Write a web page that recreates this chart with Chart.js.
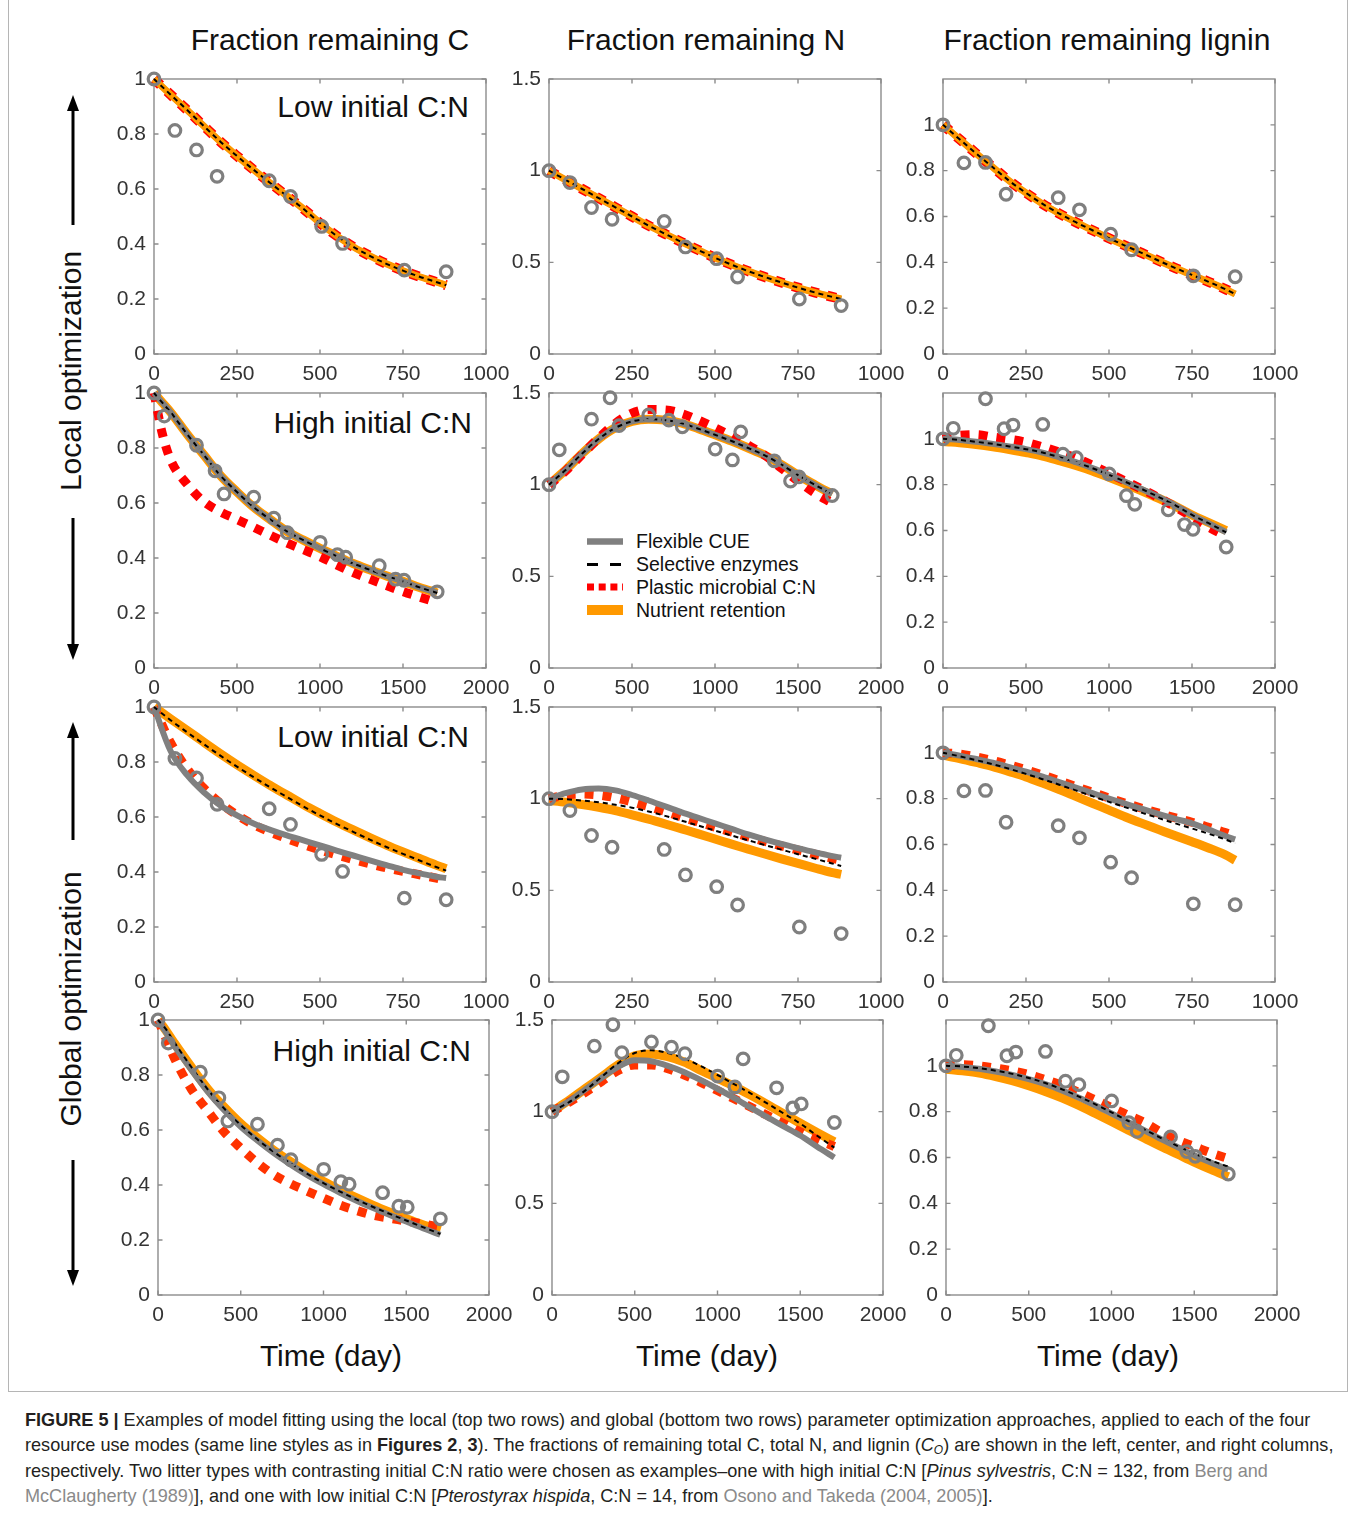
<!DOCTYPE html>
<html><head><meta charset="utf-8">
<script src="https://cdn.jsdelivr.net/npm/chart.js@4.4.1/dist/chart.umd.min.js"></script>
<style>
html,body{margin:0;padding:0;background:#fff;}
body{width:1357px;height:1514px;position:relative;overflow:hidden;font-family:"Liberation Sans",Arial,Helvetica,sans-serif;}
.t{position:absolute;white-space:nowrap;color:#111;font-size:30px;line-height:30px;}
.rot{position:absolute;white-space:nowrap;color:#111;font-size:30px;line-height:30px;transform:translate(-50%,-50%) rotate(-90deg);}
.leg{position:absolute;white-space:nowrap;color:#111;font-size:19.5px;line-height:20px;}
.cap{position:absolute;left:25px;top:1408px;font-size:18.1px;line-height:25.3px;color:#231f20;white-space:nowrap;}
.cap div{height:25.3px;}
.cap sub{font-size:12px;line-height:0;vertical-align:-3px;}
.cap .g{color:#8a8a8a;}
#frame{position:absolute;left:8px;top:-2px;width:1340px;height:1394px;border:1px solid #b5b5b5;box-sizing:border-box;}
</style></head><body>
<div id="frame"></div>

<script>
// ---------------- DATA ----------------
// observation days and observed fractions
const lowDays  = [0, 63, 128, 190, 347, 411, 505, 568, 754, 880];
const highDays = [0, 62, 256, 368, 422, 601, 722, 803, 1001, 1105, 1155, 1357, 1455, 1506, 1706];
const obsC_low  = [1.0, 0.813, 0.742, 0.646, 0.630, 0.573, 0.464, 0.402, 0.305, 0.299];
const obsN_low  = [1.0, 0.935, 0.799, 0.735, 0.723, 0.584, 0.52, 0.42, 0.30, 0.264];
const obsL_low  = [1.0, 0.834, 0.836, 0.697, 0.682, 0.629, 0.523, 0.455, 0.341, 0.337];
const obsC_high = [1.0, 0.916, 0.81, 0.717, 0.633, 0.621, 0.545, 0.492, 0.457, 0.412, 0.403, 0.372, 0.323, 0.319, 0.277];
const obsN_high = [1.0, 1.19, 1.357, 1.474, 1.322, 1.38, 1.352, 1.316, 1.194, 1.135, 1.288, 1.13, 1.02, 1.042, 0.941];
const obsL_high = [1.0, 1.046, 1.175, 1.044, 1.06, 1.063, 0.933, 0.918, 0.847, 0.752, 0.714, 0.69, 0.626, 0.605, 0.528];

// model output times
const modelT_low  = [0, 50, 100, 150, 200, 250, 300, 350, 400, 450, 500, 550, 600, 650, 700, 750, 800, 850, 880];
const modelT_high = [0, 50, 100, 200, 300, 400, 500, 600, 700, 800, 900, 1000, 1100, 1200, 1300, 1400, 1500, 1600, 1706];

// Local optimization, low initial C:N (all four modes overlap)
const locLow_C = [1.0, 0.943, 0.887, 0.829, 0.772, 0.72, 0.67, 0.622, 0.575, 0.528, 0.476, 0.43, 0.39, 0.357, 0.328, 0.303, 0.281, 0.262, 0.25];
const locLow_N = [1.0, 0.95, 0.9, 0.85, 0.80, 0.75, 0.70, 0.655, 0.61, 0.567, 0.525, 0.487, 0.452, 0.42, 0.39, 0.362, 0.336, 0.313, 0.30];
const locLow_L = [1.0, 0.937, 0.875, 0.815, 0.755, 0.703, 0.655, 0.613, 0.575, 0.54, 0.505, 0.472, 0.44, 0.407, 0.375, 0.345, 0.315, 0.283, 0.262];

// Local optimization, high initial C:N
const locHigh_C_flex = [1.0, 0.965, 0.93, 0.85, 0.775, 0.70, 0.64, 0.585, 0.54, 0.497, 0.465, 0.435, 0.407, 0.38, 0.357, 0.335, 0.315, 0.293, 0.273];
const locHigh_C_plas = [1.0, 0.852, 0.757, 0.668, 0.605, 0.568, 0.54, 0.512, 0.483, 0.455, 0.43, 0.405, 0.375, 0.347, 0.323, 0.3, 0.278, 0.258, 0.238];
const locHigh_N_flex = [1.0, 1.04, 1.08, 1.17, 1.25, 1.31, 1.345, 1.357, 1.352, 1.335, 1.305, 1.272, 1.238, 1.2, 1.16, 1.11, 1.052, 1.0, 0.948];
const locHigh_N_plas = [1.0, 1.035, 1.075, 1.165, 1.255, 1.335, 1.39, 1.41, 1.408, 1.388, 1.352, 1.31, 1.265, 1.215, 1.16, 1.09, 1.02, 0.955, 0.9];
const locHigh_L_flex = [1.0, 0.998, 0.995, 0.987, 0.978, 0.967, 0.955, 0.94, 0.92, 0.898, 0.872, 0.843, 0.812, 0.78, 0.746, 0.71, 0.668, 0.632, 0.592];
const locHigh_L_plas = [1.0, 1.01, 1.015, 1.018, 1.008, 0.998, 0.985, 0.965, 0.942, 0.917, 0.885, 0.85, 0.815, 0.78, 0.743, 0.702, 0.66, 0.615, 0.575];
const locHigh_L_nutr = [0.988, 0.986, 0.983, 0.975, 0.965, 0.953, 0.94, 0.925, 0.905, 0.884, 0.86, 0.832, 0.803, 0.772, 0.74, 0.706, 0.668, 0.635, 0.6];

// Global optimization, low initial C:N
const gloLow_C_flex = [1.0, 0.84, 0.752, 0.69, 0.642, 0.606, 0.576, 0.553, 0.533, 0.515, 0.497, 0.478, 0.46, 0.442, 0.425, 0.408, 0.395, 0.383, 0.378];
const gloLow_C_sel  = [1.0, 0.952, 0.908, 0.865, 0.823, 0.783, 0.745, 0.708, 0.673, 0.638, 0.606, 0.575, 0.546, 0.518, 0.491, 0.466, 0.442, 0.418, 0.405];
const gloLow_C_plas = [1.0, 0.87, 0.775, 0.705, 0.65, 0.607, 0.572, 0.545, 0.522, 0.5, 0.48, 0.462, 0.445, 0.43, 0.415, 0.402, 0.39, 0.378, 0.37];
const gloLow_C_nutr = [1.0, 0.957, 0.915, 0.872, 0.83, 0.79, 0.752, 0.715, 0.68, 0.645, 0.613, 0.582, 0.553, 0.525, 0.498, 0.473, 0.449, 0.425, 0.412];
const gloLow_N_flex = [1.0, 1.03, 1.05, 1.055, 1.045, 1.02, 0.99, 0.958, 0.925, 0.895, 0.865, 0.835, 0.805, 0.778, 0.753, 0.73, 0.708, 0.688, 0.678];
const gloLow_N_sel  = [1.0, 0.997, 0.99, 0.98, 0.967, 0.951, 0.93, 0.906, 0.88, 0.853, 0.826, 0.799, 0.773, 0.747, 0.722, 0.697, 0.673, 0.648, 0.633];
const gloLow_N_plas = [1.0, 1.02, 1.025, 1.02, 1.005, 0.982, 0.957, 0.93, 0.9, 0.872, 0.845, 0.818, 0.792, 0.767, 0.743, 0.72, 0.698, 0.676, 0.664];
const gloLow_N_nutr = [0.99, 0.98, 0.968, 0.953, 0.935, 0.912, 0.888, 0.862, 0.835, 0.808, 0.78, 0.752, 0.725, 0.698, 0.672, 0.647, 0.622, 0.598, 0.587];
const gloLow_L_flex = [1.0, 0.988, 0.973, 0.957, 0.938, 0.918, 0.896, 0.872, 0.848, 0.824, 0.8, 0.777, 0.755, 0.733, 0.712, 0.692, 0.665, 0.637, 0.622];
const gloLow_L_sel  = [1.0, 0.985, 0.968, 0.95, 0.93, 0.908, 0.885, 0.861, 0.836, 0.811, 0.786, 0.762, 0.738, 0.715, 0.692, 0.67, 0.647, 0.622, 0.605];
const gloLow_L_plas = [1.0, 0.995, 0.982, 0.966, 0.947, 0.926, 0.903, 0.878, 0.853, 0.828, 0.803, 0.78, 0.758, 0.737, 0.716, 0.697, 0.675, 0.652, 0.638];
const gloLow_L_nutr = [0.99, 0.975, 0.958, 0.94, 0.918, 0.895, 0.868, 0.84, 0.81, 0.78, 0.75, 0.72, 0.692, 0.665, 0.638, 0.612, 0.585, 0.555, 0.531];

// Global optimization, high initial C:N
const gloHigh_C_flex = [1.0, 0.953, 0.905, 0.82, 0.74, 0.672, 0.612, 0.562, 0.516, 0.475, 0.437, 0.403, 0.372, 0.343, 0.316, 0.291, 0.267, 0.243, 0.219];
const gloHigh_C_sel  = [1.0, 0.965, 0.918, 0.83, 0.748, 0.678, 0.618, 0.566, 0.52, 0.479, 0.441, 0.407, 0.376, 0.347, 0.32, 0.295, 0.271, 0.247, 0.222];
const gloHigh_C_plas = [1.0, 0.93, 0.86, 0.75, 0.67, 0.593, 0.534, 0.481, 0.437, 0.405, 0.378, 0.352, 0.327, 0.307, 0.29, 0.279, 0.269, 0.258, 0.247];
const gloHigh_C_nutr = [1.0, 0.96, 0.915, 0.83, 0.75, 0.683, 0.623, 0.572, 0.526, 0.485, 0.447, 0.413, 0.382, 0.353, 0.326, 0.301, 0.277, 0.255, 0.235];
const gloHigh_N_flex = [1.0, 1.028, 1.055, 1.12, 1.185, 1.245, 1.28, 1.275, 1.25, 1.215, 1.172, 1.125, 1.075, 1.022, 0.97, 0.92, 0.87, 0.81, 0.75];
const gloHigh_N_sel  = [1.0, 1.025, 1.05, 1.115, 1.19, 1.265, 1.32, 1.335, 1.32, 1.29, 1.248, 1.2, 1.15, 1.1, 1.045, 0.99, 0.935, 0.87, 0.804];
const gloHigh_N_plas = [1.0, 1.025, 1.05, 1.105, 1.165, 1.225, 1.255, 1.255, 1.235, 1.2, 1.16, 1.115, 1.07, 1.025, 0.98, 0.935, 0.89, 0.85, 0.81];
const gloHigh_N_nutr = [1.0, 1.03, 1.06, 1.125, 1.19, 1.255, 1.305, 1.315, 1.3, 1.27, 1.225, 1.182, 1.138, 1.09, 1.04, 0.988, 0.937, 0.887, 0.836];
const gloHigh_L_flex = [1.0, 0.998, 0.995, 0.987, 0.975, 0.96, 0.942, 0.92, 0.893, 0.862, 0.828, 0.792, 0.755, 0.718, 0.68, 0.645, 0.61, 0.578, 0.548];
const gloHigh_L_sel  = [1.0, 0.999, 0.997, 0.99, 0.979, 0.965, 0.947, 0.925, 0.898, 0.867, 0.833, 0.797, 0.76, 0.722, 0.685, 0.65, 0.617, 0.587, 0.56];
const gloHigh_L_plas = [1.0, 1.003, 1.005, 1.0, 0.99, 0.978, 0.962, 0.94, 0.915, 0.885, 0.852, 0.818, 0.785, 0.752, 0.71, 0.675, 0.648, 0.62, 0.595];
const gloHigh_L_nutr = [0.985, 0.982, 0.978, 0.968, 0.953, 0.935, 0.913, 0.888, 0.86, 0.828, 0.793, 0.757, 0.72, 0.684, 0.648, 0.614, 0.58, 0.548, 0.516];

// tick labels
const xTicksLow  = [0, 250, 500, 750, 1000];
const xTicksHigh = [0, 500, 1000, 1500, 2000];
const yTicksC = [0, 0.2, 0.4, 0.6, 0.8, 1];
const yTicksN = [0, 0.5, 1, 1.5];
const yTicksL = [0, 0.2, 0.4, 0.6, 0.8, 1];
const yMax = {C: 1, N: 1.5, L: 1.2};
const columnTitles = ['Fraction remaining C', 'Fraction remaining N', 'Fraction remaining lignin'];
const seriesNames = ['Flexible CUE', 'Selective enzymes', 'Plastic microbial C:N', 'Nutrient retention'];

// ---------------- LAYOUT / STYLE ----------------
const FONT = '"Liberation Sans", Arial, Helvetica, sans-serif';
const colLeft = [[154, 549, 943], [154, 549, 943], [154, 549, 943], [158, 552, 946]];
const rowTop = [79, 393, 707, 1020];
const PW = 332, PH = 275;
const GRAY = '#808080', ORANGE = '#ff9900', BLACK = '#000000';

const boxPlugin = {
  id: 'mbox',
  beforeDatasetsDraw(chart) {
    const {ctx, chartArea: a, scales: {x, y}} = chart;
    ctx.save();
    ctx.strokeStyle = '#8c8c8c';
    ctx.lineWidth = 1.4;
    ctx.strokeRect(a.left, a.top, a.right - a.left, a.bottom - a.top);
    ctx.beginPath();
    const L = 4.5;
    x.ticks.forEach(t => { const p = x.getPixelForValue(t.value);
      ctx.moveTo(p, a.bottom); ctx.lineTo(p, a.bottom - L);
      ctx.moveTo(p, a.top); ctx.lineTo(p, a.top + L); });
    y.ticks.forEach(t => { const p = y.getPixelForValue(t.value);
      ctx.moveTo(a.left, p); ctx.lineTo(a.left + L, p);
      ctx.moveTo(a.right, p); ctx.lineTo(a.right - L, p); });
    ctx.stroke();
    ctx.restore();
  }
};

function makePanel(r, c, cfg) {
  const PL = 62, PT = 26, PR = 36, PB = 42;
  const left = colLeft[r][c], top = rowTop[r];
  const w = (r === 3 ? 331 : PW);
  const cv = document.createElement('canvas');
  cv.width = w + PL + PR; cv.height = PH + PT + PB;
  cv.style.cssText = `position:absolute;left:${left - PL}px;top:${top - PT}px;width:${w + PL + PR}px;height:${PH + PT + PB}px;`;
  document.body.appendChild(cv);
  const T = cfg.t;
  const plasColor = r >= 2 ? '#ff3300' : '#ff0000';
  const line = (vals, color, width, dash, order) => ({
    type: 'line', data: T.map((x, i) => ({x, y: vals[i]})), borderColor: color, borderWidth: width,
    borderDash: dash, pointRadius: 0, fill: false, cubicInterpolationMode: 'monotone', order, clip: false,
    borderCapStyle: 'butt', borderJoinStyle: 'round'
  });
  const row1 = (r === 0);
  const datasets = [
    {label: 'Observed', type: 'line', showLine: false, data: cfg.ox.map((x, i) => ({x, y: cfg.oy[i]})),
      pointRadius: 5.8, pointBorderWidth: 3.2, pointBorderColor: '#7f7f7f', pointBackgroundColor: 'rgba(0,0,0,0)',
      order: 0, clip: false},
    Object.assign(line(cfg.sel, BLACK, 2, [5, 4], 1), {label: seriesNames[1]}),
    Object.assign(line(cfg.flex, GRAY, 6, [], row1 ? 4 : 2), {label: seriesNames[0]}),
    Object.assign(line(cfg.plas, plasColor, row1 ? 10 : 9, [9, 9], 3), {label: seriesNames[2]}),
    Object.assign(line(cfg.nutr, ORANGE, row1 ? 7 : 9, [], row1 ? 2 : 4), {label: seriesNames[3]})
  ];
  new Chart(cv, {
    type: 'line',
    data: {datasets},
    options: {
      responsive: false, animation: false, devicePixelRatio: 1, events: [],
      layout: {padding: {left: 0, top: PT, right: PR, bottom: 0}},
      plugins: {legend: {display: false}, tooltip: {enabled: false}},
      scales: {
        x: {type: 'linear', min: 0, max: cfg.xt[cfg.xt.length - 1],
          grid: {display: false, drawTicks: false}, border: {display: false},
          ticks: {padding: 8, color: '#333', font: {size: 21, family: FONT}, maxRotation: 0, autoSkip: false,
            callback: v => String(v)},
          afterBuildTicks: s => { s.ticks = cfg.xt.map(v => ({value: v})); },
          afterFit: s => { s.height = PB; }},
        y: {type: 'linear', min: 0, max: cfg.ymax,
          grid: {display: false, drawTicks: false}, border: {display: false},
          ticks: {padding: 8, color: '#333', font: {size: 21, family: FONT}, autoSkip: false,
            callback: v => String(v)},
          afterBuildTicks: s => { s.ticks = cfg.yt.map(v => ({value: v})); },
          afterFit: s => { s.width = PL; }}
      }
    },
    plugins: [boxPlugin]
  });
}

const panelCfgs = [
  // row 0: local, low C:N
  [{t: modelT_low, ox: lowDays, oy: obsC_low, flex: locLow_C, sel: locLow_C, plas: locLow_C, nutr: locLow_C, xt: xTicksLow, yt: yTicksC, ymax: yMax.C},
   {t: modelT_low, ox: lowDays, oy: obsN_low, flex: locLow_N, sel: locLow_N, plas: locLow_N, nutr: locLow_N, xt: xTicksLow, yt: yTicksN, ymax: yMax.N},
   {t: modelT_low, ox: lowDays, oy: obsL_low, flex: locLow_L, sel: locLow_L, plas: locLow_L, nutr: locLow_L, xt: xTicksLow, yt: yTicksL, ymax: yMax.L}],
  // row 1: local, high C:N
  [{t: modelT_high, ox: highDays, oy: obsC_high, flex: locHigh_C_flex, sel: locHigh_C_flex, plas: locHigh_C_plas, nutr: locHigh_C_flex, xt: xTicksHigh, yt: yTicksC, ymax: yMax.C},
   {t: modelT_high, ox: highDays, oy: obsN_high, flex: locHigh_N_flex, sel: locHigh_N_flex, plas: locHigh_N_plas, nutr: locHigh_N_flex, xt: xTicksHigh, yt: yTicksN, ymax: yMax.N},
   {t: modelT_high, ox: highDays, oy: obsL_high, flex: locHigh_L_flex, sel: locHigh_L_flex, plas: locHigh_L_plas, nutr: locHigh_L_nutr, xt: xTicksHigh, yt: yTicksL, ymax: yMax.L}],
  // row 2: global, low C:N
  [{t: modelT_low, ox: lowDays, oy: obsC_low, flex: gloLow_C_flex, sel: gloLow_C_sel, plas: gloLow_C_plas, nutr: gloLow_C_nutr, xt: xTicksLow, yt: yTicksC, ymax: yMax.C},
   {t: modelT_low, ox: lowDays, oy: obsN_low, flex: gloLow_N_flex, sel: gloLow_N_sel, plas: gloLow_N_plas, nutr: gloLow_N_nutr, xt: xTicksLow, yt: yTicksN, ymax: yMax.N},
   {t: modelT_low, ox: lowDays, oy: obsL_low, flex: gloLow_L_flex, sel: gloLow_L_sel, plas: gloLow_L_plas, nutr: gloLow_L_nutr, xt: xTicksLow, yt: yTicksL, ymax: yMax.L}],
  // row 3: global, high C:N
  [{t: modelT_high, ox: highDays, oy: obsC_high, flex: gloHigh_C_flex, sel: gloHigh_C_sel, plas: gloHigh_C_plas, nutr: gloHigh_C_nutr, xt: xTicksHigh, yt: yTicksC, ymax: yMax.C},
   {t: modelT_high, ox: highDays, oy: obsN_high, flex: gloHigh_N_flex, sel: gloHigh_N_sel, plas: gloHigh_N_plas, nutr: gloHigh_N_nutr, xt: xTicksHigh, yt: yTicksN, ymax: yMax.N},
   {t: modelT_high, ox: highDays, oy: obsL_high, flex: gloHigh_L_flex, sel: gloHigh_L_sel, plas: gloHigh_L_plas, nutr: gloHigh_L_nutr, xt: xTicksHigh, yt: yTicksL, ymax: yMax.L}]
];
</script>

<!-- column titles (baseline ~50) -->
<div class="t" style="left:330px;top:25px;transform:translateX(-50%);">Fraction remaining C</div>
<div class="t" style="left:706px;top:25px;transform:translateX(-50%);">Fraction remaining N</div>
<div class="t" style="left:1107px;top:25px;transform:translateX(-50%);">Fraction remaining lignin</div>

<!-- panel annotations -->
<div class="t" style="right:888px;top:92px;">Low initial C:N</div>
<div class="t" style="right:885px;top:408px;">High initial C:N</div>
<div class="t" style="right:888px;top:722px;">Low initial C:N</div>
<div class="t" style="right:886px;top:1036px;">High initial C:N</div>

<!-- x axis labels -->
<div class="t" style="left:331px;top:1341px;transform:translateX(-50%);">Time (day)</div>
<div class="t" style="left:707px;top:1341px;transform:translateX(-50%);">Time (day)</div>
<div class="t" style="left:1108px;top:1341px;transform:translateX(-50%);">Time (day)</div>

<!-- row labels -->
<div class="rot" style="left:71px;top:371px;">Local optimization</div>
<div class="rot" style="left:71px;top:999px;">Global optimization</div>

<!-- arrows -->
<svg style="position:absolute;left:0;top:0;" width="150" height="1320">
  <g stroke="#000" stroke-width="3" fill="#000">
    <line x1="73" y1="225" x2="73" y2="108"/><polygon stroke="none" points="73,95 67,111 79,111"/>
    <line x1="73" y1="518" x2="73" y2="647"/><polygon stroke="none" points="73,660 67,644 79,644"/>
    <line x1="73" y1="840" x2="73" y2="735"/><polygon stroke="none" points="73,722 67,738 79,738"/>
    <line x1="73" y1="1160" x2="73" y2="1273"/><polygon stroke="none" points="73,1286 67,1270 79,1270"/>
  </g>
</svg>

<!-- legend (in centre panel of 2nd row) -->
<svg style="position:absolute;left:580px;top:525px;" width="50" height="100">
  <line x1="7" y1="16.5" x2="43" y2="16.5" stroke="#808080" stroke-width="6.5"/>
  <line x1="7" y1="39.5" x2="43" y2="39.5" stroke="#000" stroke-width="3" stroke-dasharray="11 12"/>
  <line x1="7" y1="62" x2="43" y2="62" stroke="#ff0000" stroke-width="7" stroke-dasharray="7 4.7"/>
  <line x1="7" y1="85" x2="43" y2="85" stroke="#ff9900" stroke-width="10"/>
</svg>
<div class="leg" style="left:636px;top:531px;">Flexible CUE</div>
<div class="leg" style="left:636px;top:554px;">Selective enzymes</div>
<div class="leg" style="left:636px;top:577px;">Plastic microbial C:N</div>
<div class="leg" style="left:636px;top:600px;">Nutrient retention</div>

<!-- caption -->
<div class="cap">
<div><b>FIGURE 5 |</b> Examples of model fitting using the local (top two rows) and global (bottom two rows) parameter optimization approaches, applied to each of the four</div>
<div>resource use modes (same line styles as in <b>Figures 2</b>, <b>3</b>). The fractions of remaining total C, total N, and lignin (<i>C</i><sub><i>O</i></sub>) are shown in the left, center, and right columns,</div>
<div>respectively. Two litter types with contrasting initial C:N ratio were chosen as examples–one with high initial C:N [<i>Pinus sylvestris</i>, C:N = 132, from <span class="g">Berg and</span></div>
<div><span class="g">McClaugherty (1989)</span>], and one with low initial C:N [<i>Pterostyrax hispida</i>, C:N = 14, from <span class="g">Osono and Takeda (2004, 2005)</span>].</div>
</div>

<script>
for (let r = 0; r < 4; r++) for (let c = 0; c < 3; c++) makePanel(r, c, panelCfgs[r][c]);
</script>
</body></html>
